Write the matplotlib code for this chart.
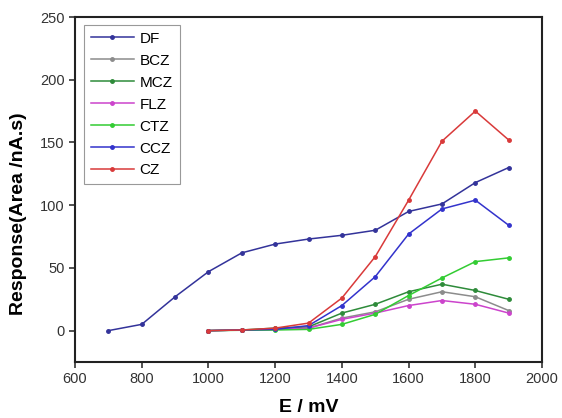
import matplotlib
matplotlib.use("Agg")
import matplotlib.pyplot as plt

plt.rcParams['font.family'] = ['Liberation Sans', 'DejaVu Sans']

x_df = [700, 800, 900, 1000, 1100, 1200, 1300, 1400, 1500, 1600, 1700, 1800, 1900]
df = [0, 5, 27, 47, 62, 69, 73, 76, 80, 95, 101, 118, 130]

x_drug = [1000, 1100, 1200, 1300, 1400, 1500, 1600, 1700, 1800, 1900]
bcz = [0, 0.5, 1, 2, 10, 15, 25, 31, 27, 16]
mcz = [0, 0.5, 2, 3, 14, 21, 31, 37, 32, 25]
flz = [0, 0.5, 1, 2, 9, 14, 20, 24, 21, 14]
ctz = [0, 0.3, 0.5, 1, 5, 13, 28, 42, 55, 58]
ccz = [0, 0.5, 1, 4, 20, 43, 77, 97, 104, 84]
cz = [0, 0.5, 2, 6, 26, 59, 104, 151, 175, 152]

series = [
    ("DF", x_df, df, "#33339a"),
    ("BCZ", x_drug, bcz, "#8c8c8c"),
    ("MCZ", x_drug, mcz, "#2e8b3a"),
    ("FLZ", x_drug, flz, "#cc44cc"),
    ("CTZ", x_drug, ctz, "#33cc33"),
    ("CCZ", x_drug, ccz, "#3333cc"),
    ("CZ", x_drug, cz, "#d93a3a"),
]

fig = plt.figure(figsize=(5.62, 4.18), dpi=100)
ax = fig.add_axes([0.1335, 0.134, 0.831, 0.8253])

for name, xs, ys, c in series:
    ax.plot(xs, ys, color=c, lw=1.1, marker='o', ms=2.5, label=name)

ax.set_xlim(600, 2000)
ax.set_ylim(-25, 250)
ax.set_xticks(range(600, 2001, 200))
ax.set_yticks(range(0, 251, 50))
ax.tick_params(direction='out', length=4, width=1.2, labelsize=10.5, colors='#333333',
               top=False, right=False)
for s in ax.spines.values():
    s.set_linewidth(1.5)
    s.set_color('#222222')

ax.set_xlabel("E / mV", fontsize=14, fontweight='bold', labelpad=9)
ax.set_ylabel("Response(Area /nA.s)", fontsize=14, fontweight='bold')
ax.yaxis.set_label_coords(-0.103, 0.43)

leg = ax.legend(loc='upper left', bbox_to_anchor=(0.019, 0.977), borderaxespad=0,
                fontsize=11, handlelength=2.8, handletextpad=0.4, labelspacing=0.52,
                borderpad=0.45, fancybox=False, framealpha=1, edgecolor='#999999')
leg.get_frame().set_linewidth(0.8)

fig.savefig("out.png", dpi=100)
